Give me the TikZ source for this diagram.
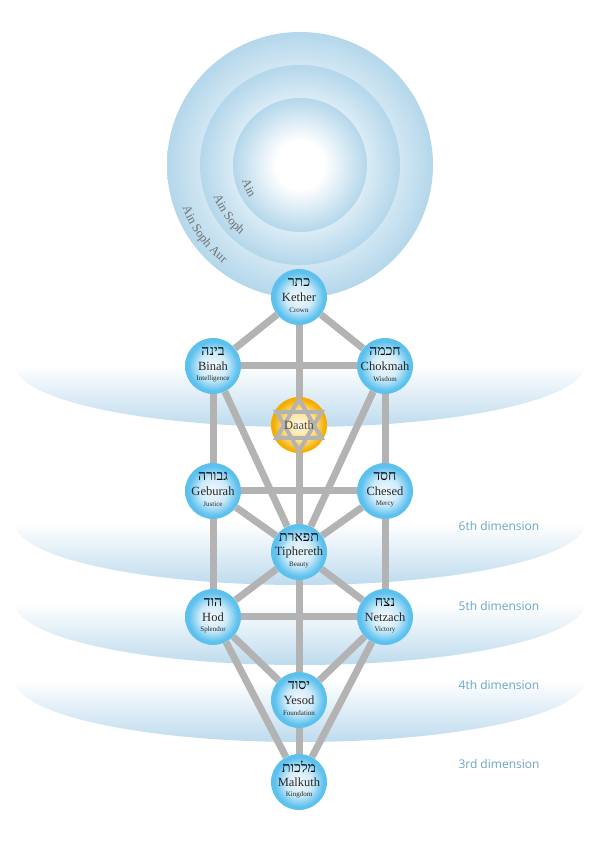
\documentclass[tikz,border=0pt]{standalone}
\usepackage{fontspec}
\setmainfont{Liberation Serif}
\newfontfamily\hebfont[Script=Hebrew]{Liberation Serif}
\newfontfamily\dimfont{Open Sans}
\TeXXeTstate=1
\usetikzlibrary{decorations.text,backgrounds}
\definecolor{pathgrey}{HTML}{B3B3B3}
\definecolor{sephedge}{HTML}{5DC1EE}
\definecolor{sephmid}{HTML}{CFEBF9}
\definecolor{sephcore}{HTML}{F2F9FD}
\definecolor{daathcore}{HTML}{FFF8E3}
\definecolor{daathmid}{HTML}{FFE08A}
\definecolor{daathedge}{HTML}{F5AE00}
\definecolor{ringblue}{HTML}{B4D7EB}
\definecolor{bandblue}{HTML}{BEDBEE}
\definecolor{dimblue}{HTML}{6BA5C9}
\definecolor{ringgrey}{HTML}{707070}
\definecolor{inkgrey}{HTML}{262626}
\pgfdeclareradialshading{sephball}{\pgfpoint{0bp}{0bp}}{color(0bp)=(sephcore); color(12bp)=(sephmid); color(22bp)=(sephedge); color(25bp)=(sephedge); color(50bp)=(sephedge)}
\pgfdeclareradialshading{daathball}{\pgfpoint{0bp}{0bp}}{color(0bp)=(daathcore); color(14bp)=(daathmid); color(23bp)=(daathedge); color(25bp)=(daathedge); color(50bp)=(daathedge)}
\pgfdeclareradialshading{ringball}{\pgfpoint{0bp}{0bp}}{color(0bp)=(white); color(9bp)=(white); color(25bp)=(ringblue); color(50bp)=(ringblue)}
\newcommand\ringfont{\fontsize{12.5}{12.5}\selectfont\color{ringgrey}}

\begin{document}
\begin{tikzpicture}[x=1pt, y=1pt,
    sephira/.style={circle, minimum size=56pt, inner sep=0pt, shade, shading=sephball},
    gate/.style={circle, minimum size=56pt, inner sep=0pt, shade, shading=daathball},
    hebname/.style={font=\hebfont\fontsize{14}{14}\selectfont, text=black, inner sep=0pt},
    sefname/.style={font=\fontsize{12.5}{12.5}\selectfont, text=inkgrey, inner sep=0pt},
    sefmeaning/.style={font=\fontsize{7}{7}\selectfont, text=inkgrey, inner sep=0pt},
    channel/.style={draw=pathgrey, line width=7pt},
    hexagram/.style={draw=pathgrey, line width=4pt},
    dimlabel/.style={font=\dimfont\fontsize{12}{12}\selectfont, text=dimblue},
    band/.style={top color=white, bottom color=bandblue}
]
  \useasboundingbox (0,0) rectangle (600,843);

  % the ten sephiroth
  \foreach \n/\x/\y/\heb/\lbl/\mean in {
      kether/299/546/כתר/Kether/Crown,
      binah/213/477/בינה/Binah/Intelligence,
      chokmah/385/477/חכמה/Chokmah/Wisdom,
      geburah/213/352/גבורה/Geburah/Justice,
      chesed/385/352/חסד/Chesed/Mercy,
      tiphereth/299/291/תפארת/Tiphereth/Beauty,
      hod/213/226/הוד/Hod/Splendor,
      netzach/385/226/נצח/Netzach/Victory,
      yesod/299/143/יסוד/Yesod/Foundation,
      malkuth/299/61/מלכות/Malkuth/Kingdom} {
    \node[sephira] (\n) at (\x,\y) {};
    \node[hebname] (\n-heb) at ([yshift=15pt]\n.center) {\beginR\heb\endR};
    \node[sefname] (\n-name) at (\n.center) {\lbl};
    \node[sefmeaning] (\n-mean) at ([yshift=-13pt]\n.center) {\mean};
  }

  % daath
  \node[gate] (daath) at (299,418) {};
  \draw[hexagram, shift={(daath)}] (90:26) -- (210:26) -- (330:26) -- cycle;
  \draw[hexagram, shift={(daath)}] (270:26) -- (30:26) -- (150:26) -- cycle;
  \node[sefname, text=black!70] (daath-name) at (daath) {Daath};

  % dimensions
  \node[dimlabel] (dim6) at (499,317) {6th dimension};
  \node[dimlabel] (dim5) at (499,237) {5th dimension};
  \node[dimlabel] (dim4) at (499,158) {4th dimension};
  \node[dimlabel] (dim3) at (499,79) {3rd dimension};

  \begin{scope}[on background layer]
    \foreach \yc in {478,320,240,163}
      \shade[band] (15,\yc) arc[start angle=180, end angle=360, x radius=285, y radius=62] -- cycle;

    % ain soph aur
    \shade[shading=ringball] (300,678) circle[radius=133];
    \shade[shading=ringball] (300,678) circle[radius=100];
    \shade[shading=ringball] (300,678) circle[radius=67];
    \path[decorate, decoration={text along path, text={|\ringfont|Ain Soph Aur}}]
      (300,678) ++(200:125) arc[start angle=200, end angle=250, radius=125];
    \path[decorate, decoration={text along path, text={|\ringfont|Ain Soph}}]
      (300,678) ++(200:92) arc[start angle=200, end angle=250, radius=92];
    \path[decorate, decoration={text along path, text={|\ringfont|Ain}}]
      (300,678) ++(195:60) arc[start angle=195, end angle=240, radius=60];

    % paths
    \draw[channel] (kether) -- (binah);
    \draw[channel] (kether) -- (chokmah);
    \draw[channel] (kether) -- (tiphereth);
    \draw[channel] (binah) -- (chokmah);
    \draw[channel] (binah) -- (geburah);
    \draw[channel] (chokmah) -- (chesed);
    \draw[channel] (binah) -- (tiphereth);
    \draw[channel] (chokmah) -- (tiphereth);
    \draw[channel] (geburah) -- (chesed);
    \draw[channel] (geburah) -- (tiphereth);
    \draw[channel] (chesed) -- (tiphereth);
    \draw[channel] (geburah) -- (hod);
    \draw[channel] (chesed) -- (netzach);
    \draw[channel] (hod) -- (netzach);
    \draw[channel] (hod) -- (tiphereth);
    \draw[channel] (netzach) -- (tiphereth);
    \draw[channel] (tiphereth) -- (yesod);
    \draw[channel] (hod) -- (yesod);
    \draw[channel] (netzach) -- (yesod);
    \draw[channel] (hod) -- (malkuth);
    \draw[channel] (netzach) -- (malkuth);
    \draw[channel] (yesod) -- (malkuth);
  \end{scope}
\end{tikzpicture}
\end{document}
